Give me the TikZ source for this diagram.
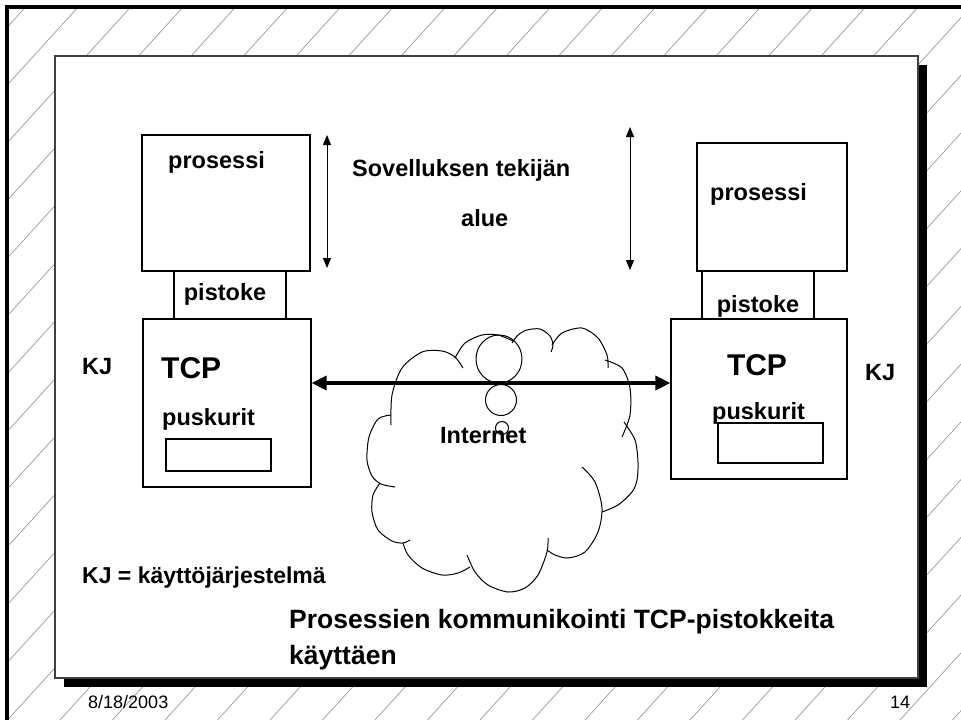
\documentclass[tikz,border=0pt]{standalone}
\usepackage{fontspec}
\setmainfont{Liberation Sans}
\usetikzlibrary{arrows.meta}

\tikzset{
  box/.style={draw, line width=1.2pt, inner sep=0pt},
  txt/.style={inner sep=0pt, anchor=base west, font=\fontsize{23.5}{28}\selectfont\bfseries},
  big/.style={txt, font=\fontsize{30}{36}\selectfont\bfseries},
  ttl/.style={txt, font=\fontsize{26.5}{32}\selectfont\bfseries},
  foot/.style={inner sep=0pt, anchor=base west, font=\fontsize{18}{22}\selectfont},
  hatch/.style={draw=black!40, line width=0.7pt},
  updown/.style={{Triangle[length=10pt,width=8pt]}-{Triangle[length=10pt,width=8pt]}, line width=1pt},
  link/.style={{Triangle[length=15pt,width=14pt]}-{Triangle[length=15pt,width=14pt]}, line width=3.3pt},
  puff/.style={line width=1pt}
}

\begin{document}
\begin{tikzpicture}[x=1pt, y=-1pt]
\path[use as bounding box] (0,0) rectangle (961,720);

% hatched background and frame
\begin{scope}
\clip (7,7) rectangle (961,720);
\foreach \c in {32,84.5,...,1620}
  \draw[hatch] (\c,0) -- ++(-654.5,720);
\end{scope}
\draw[line width=3.5pt] (7,720) -- (7,7) -- (961,7);

% slide with shadow
\fill (64,65) rectangle (927,687);
\draw[fill=white, draw=black!75, line width=1.3pt] (55,56) rectangle (918,678);

% left host
\node[box, minimum width=168pt, minimum height=136pt] (procL) at (226,203) {};
\node[box, minimum width=112pt, minimum height=48pt] (sockL) at (230,295) {};
\node[box, minimum width=168pt, minimum height=168pt] (tcpL) at (227,403) {};
\node[box, minimum width=105pt, minimum height=32pt] (bufL) at (218.5,455) {};
\node[txt] (procLt) at (168,168) {prosessi};
\node[txt, anchor=base] (sockLt) at (225,300) {pistoke};
\node[big] (tcpLt) at (161,378) {TCP};
\node[txt] (bufLt) at (162,425) {puskurit};
\node[txt] (kjL) at (82,374) {KJ};

% right host
\node[box, minimum width=150pt, minimum height=128pt] (procR) at (772,207) {};
\node[box, minimum width=112pt, minimum height=48pt] (sockR) at (758,295) {};
\node[box, minimum width=176pt, minimum height=160pt] (tcpR) at (759,399) {};
\node[box, minimum width=105pt, minimum height=40pt] (bufR) at (770.5,443) {};
\node[txt] (procRt) at (710,200) {prosessi};
\node[txt, anchor=base] (sockRt) at (758,312) {pistoke};
\node[big, anchor=base] (tcpRt) at (757,375) {TCP};
\node[txt] (bufRt) at (712,419) {puskurit};
\node[txt] (kjR) at (865,380) {KJ};

% application area
\node[txt] (area1) at (352,176) {Sovelluksen tekijän};
\node[txt] (area2) at (461,226) {alue};
\coordinate (upL) at (327,135);
\coordinate (dnL) at (327,268);
\coordinate (upR) at (630,127);
\coordinate (dnR) at (630,270);
\draw[updown] (upL) -- (dnL);
\draw[updown] (upR) -- (dnR);

% cloud
\draw[puff] plot[smooth] coordinates {(391,415) (378,419) (369,437) (367,460) (372,476) (381,484) (395,487)};
\draw[puff] plot[smooth] coordinates {(391,425) (392,395) (402,368) (422,352) (442,351) (455,357) (463,368)};
\draw[puff] plot[smooth] coordinates {(455,358) (465,343) (482,335) (498,335) (513,341)};
\draw[puff] plot[smooth] coordinates {(512,343) (518,335) (527,330) (540,329) (550,336) (553,345) (551,352)};
\draw[puff] plot[smooth] coordinates {(552,345) (562,333) (582,328) (598,338) (607,355) (608,368)};
\draw[puff] plot[smooth] coordinates {(605,360) (622,368) (630,388) (630,415) (622,437)};
\draw[puff] plot[smooth] coordinates {(624,422) (635,440) (638,462) (637,480) (632,492) (618,505) (602,512)};
\draw[puff] plot[smooth] coordinates {(582,467) (595,482) (602,508) (598,532) (585,552) (568,558) (555,555) (547,550)};
\draw[puff] plot[smooth] coordinates {(548,538) (547,552) (538,575) (525,588) (508,592) (488,585) (475,572) (467,555)};
\draw[puff] plot[smooth] coordinates {(470,567) (458,573) (442,575) (422,568) (408,555) (403,543)};
\draw[puff] plot[smooth] coordinates {(380,483) (373,495) (372,512) (378,530) (392,541) (403,543) (410,540)};
\draw[puff] (499,359) ellipse[x radius=23pt, y radius=24pt];
\draw[puff] (501,400) circle[radius=15.5pt];
\draw[puff] (502,428) circle[radius=6.5pt];
\node[txt] (net) at (440,443) {Internet};

% connection
\coordinate (lnk) at (491,383);
\draw[link] (tcpL.east |- lnk) -- (tcpR.west |- lnk);

% legend and title
\node[txt, font=\fontsize{23}{28}\selectfont\bfseries] (kjkey) at (82,583) {KJ = käyttöjärjestelmä};
\node[ttl] (ttl1) at (289,628) {Prosessien kommunikointi TCP-pistokkeita};
\node[ttl] (ttl2) at (289,664) {käyttäen};

% footer
\node[foot] (date) at (88,708) {8/18/2003};
\node[foot] (page) at (890,708) {14};
\end{tikzpicture}
\end{document}
